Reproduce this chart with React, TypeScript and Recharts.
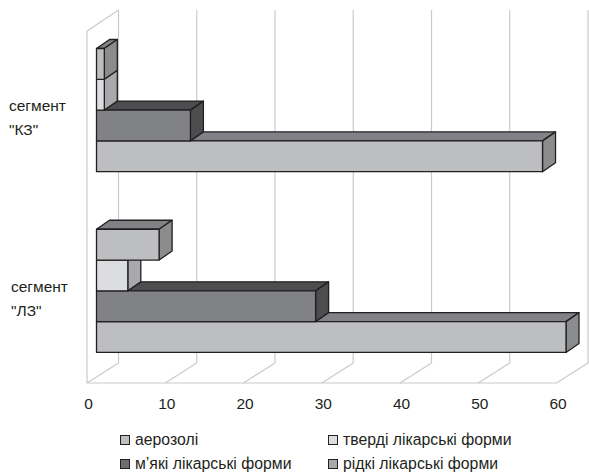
import React from 'react';
import { BarChart, Bar, XAxis, YAxis, CartesianGrid, Legend } from 'recharts';

const categories = ['сегмент "КЗ"', 'сегмент "ЛЗ"'];
const aerosols = [1, 8];
const solids = [1, 4];
const softs = [12, 28];
const liquids = [57, 60];
const ticks = [0, 10, 20, 30, 40, 50, 60];

const data = categories.map((name, i) => ({
    name,
    aerosols: aerosols[i],
    solids: solids[i],
    softs: softs[i],
    liquids: liquids[i],
}));

// listed top to bottom as in the chart
const seriesList = [
    { key: 'aerosols', label: 'аерозолі', front: '#bcbec0', top: '#808285', side: '#8a8c8e', swatch: '#bcbec0' },
    { key: 'solids', label: 'тверді лікарські форми', front: '#dcddde', top: '#a7a9ac', side: '#a7a9ac', swatch: '#dcddde' },
    { key: 'softs', label: 'м’які лікарські форми', front: '#808285', top: '#4d4d4f', side: '#4d4d4f', swatch: '#6d6e71' },
    { key: 'liquids', label: 'рідкі лікарські форми', front: '#bcbec0', top: '#808285', side: '#8a8c8e', swatch: '#a7a9ac' },
];

const DEPTH_X = 13;
const DEPTH_Y = 9;
const FONT = '"Liberation Sans", Arial, sans-serif';
const EDGE = '#231f20';

// bars are rendered bottom one first so the upper bar paints over the lower top face,
// slot tells how far to move this bar to put it back in its place inside the band
const Bar3D = (props: any) => {
    const { x, y: rawY, width, height, colors, slot } = props;
    const y = rawY + slot * height;
    const r = x + width;
    const b = y + height;
    const dx = DEPTH_X;
    const dy = DEPTH_Y;
    return (
        <g stroke={EDGE} strokeWidth={1.3} strokeLinejoin="round">
            <path d={`M${x},${y} L${x + dx},${y - dy} L${r + dx},${y - dy} L${r},${y} Z`} fill={colors.top} />
            <path d={`M${r},${y} L${r + dx},${y - dy} L${r + dx},${b - dy} L${r},${b} Z`} fill={colors.side} />
            <rect x={x} y={y} width={width} height={height} fill={colors.front} />
        </g>
    );
};

// wall lines are hung off the grid callback, it is the only place with the tick x
const GridLine = (props: any) => {
    const { x1, y2, index } = props;
    const bottom = y2 + 2;
    const frontX = x1 - 9.5;
    const backX = x1 + 22;
    return (
        <g stroke="#c9cacc" strokeWidth={1.2} fill="none">
            <line x1={backX} y1={10} x2={backX} y2={bottom - 20} />
            <line x1={frontX} y1={bottom} x2={backX} y2={bottom - 20} />
            {index === 0 && <line x1={frontX} y1={bottom} x2={frontX} y2={31} />}
            {index === 0 && <line x1={frontX} y1={31} x2={backX} y2={10} />}
            {index === 0 && <line x1={frontX} y1={bottom} x2={frontX + 469.5} y2={bottom} />}
        </g>
    );
};

const XTick = ({ x, y, payload }: any) => (
    <text x={x - 8} y={y + 20} textAnchor="middle" fontSize={15.5} fontFamily={FONT} fill="#231f20">
        {payload.value}
    </text>
);

const YTick = ({ y, payload, index }: any) => {
    const [first, second] = String(payload.value).split(' ');
    const left = index === 0 ? 9 : 11;
    return (
        <text fontSize={15.5} fontFamily={FONT} fill="#231f20">
            <tspan x={left} y={y + 1.5}>{first}</tspan>
            <tspan x={left} y={y + 25.5}>{second}</tspan>
        </text>
    );
};

const LegendBox = () => (
    <div
        style={{
            display: 'grid',
            gridTemplateColumns: '208px 220px',
            rowGap: 6,
            fontFamily: FONT,
            fontSize: 15.8,
            color: '#231f20',
            lineHeight: '18px',
        }}
    >
        {seriesList.map((s) => (
            <div key={s.key} style={{ display: 'flex', alignItems: 'center', whiteSpace: 'nowrap' }}>
                <span
                    style={{
                        width: 8,
                        height: 8,
                        border: '1px solid #231f20',
                        background: s.swatch,
                        marginRight: 5,
                        display: 'inline-block',
                    }}
                />
                {s.label}
            </div>
        ))}
    </div>
);

export default function App() {
    return (
        <div style={{ position: 'absolute', left: 0, top: 0, width: 589, height: 472, background: '#fff', overflow: 'hidden' }}>
            <BarChart
                width={589}
                height={472}
                data={data}
                layout="vertical"
                margin={{ top: 19.5, right: 23, bottom: 19, left: 0 }}
                barSize={30.8}
                barGap={0}
            >
                <CartesianGrid horizontal={false} vertical={<GridLine />} />
                <XAxis
                    type="number"
                    domain={[0, 60]}
                    ticks={ticks}
                    axisLine={false}
                    tickLine={false}
                    height={30}
                    tick={<XTick />}
                    interval={0}
                />
                <YAxis
                    type="category"
                    dataKey="name"
                    width={96.5}
                    axisLine={false}
                    tickLine={false}
                    tick={<YTick />}
                />
                <Legend
                    content={<LegendBox />}
                    wrapperStyle={{ position: 'absolute', left: 120, top: 431, width: 440, bottom: 'auto' }}
                />
                {[...seriesList].reverse().map((s, i) => (
                    <Bar
                        key={s.key}
                        dataKey={s.key}
                        isAnimationActive={false}
                        shape={(p: any) => <Bar3D {...p} colors={s} slot={3 - 2 * i} />}
                    />
                ))}
            </BarChart>
        </div>
    );
}
